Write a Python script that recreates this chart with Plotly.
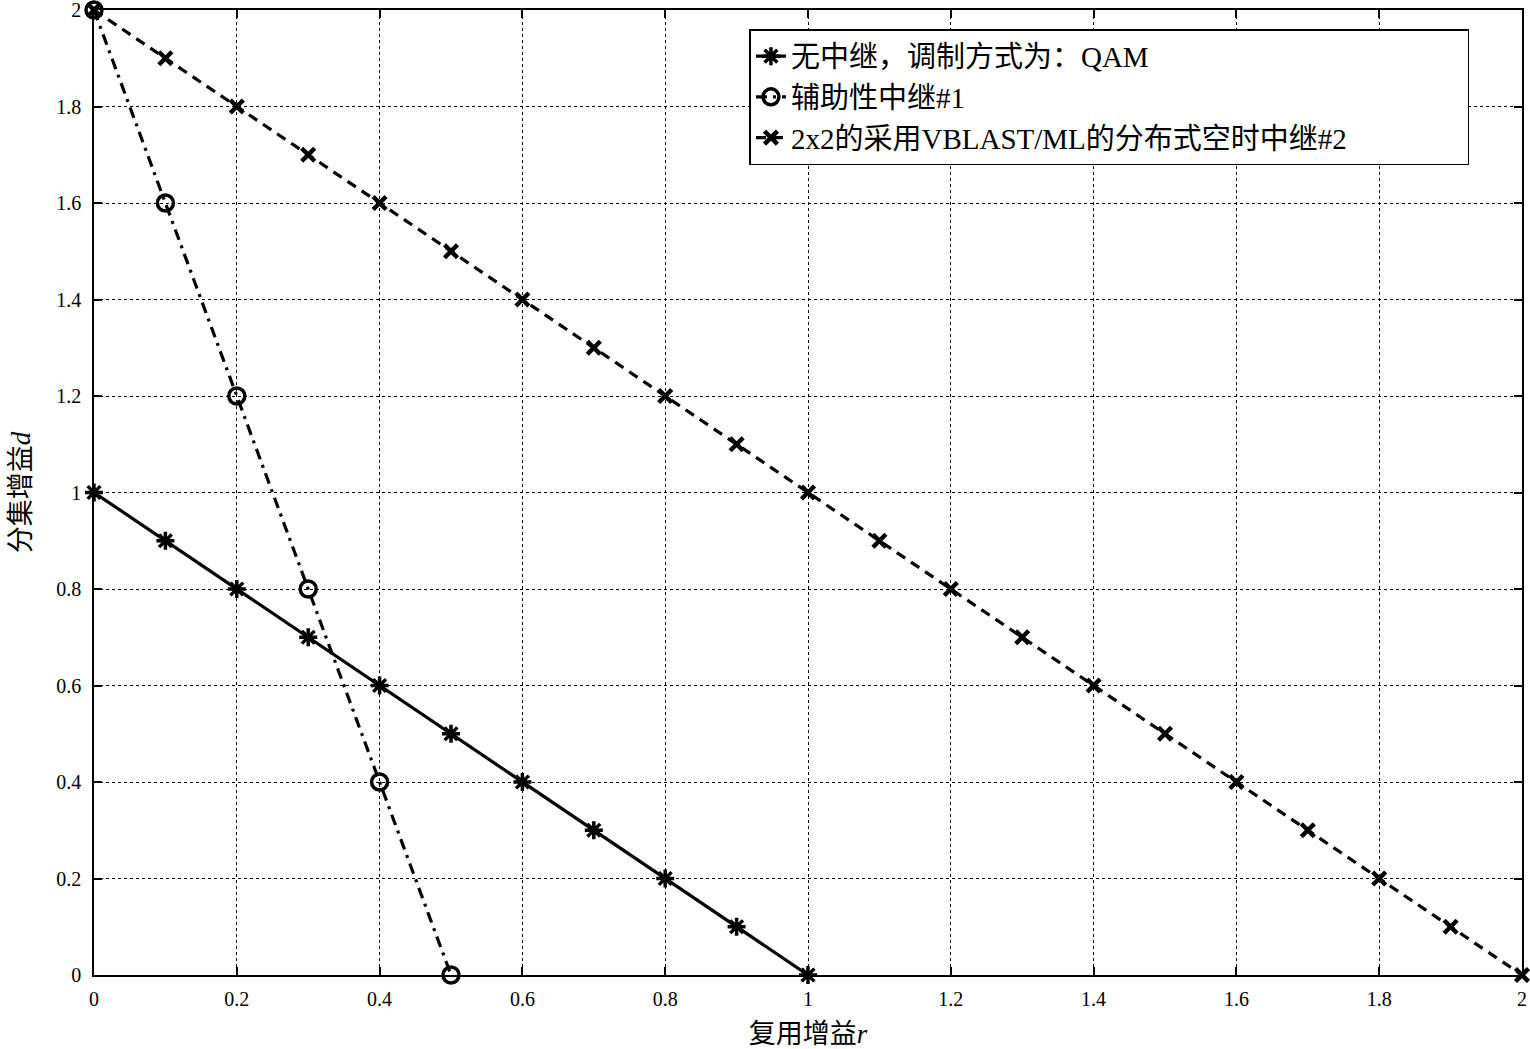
import plotly.graph_objects as go

# Data
r_norelay = [0, 0.1, 0.2, 0.3, 0.4, 0.5, 0.6, 0.7, 0.8, 0.9, 1.0]
d_norelay = [1.0, 0.9, 0.8, 0.7, 0.6, 0.5, 0.4, 0.3, 0.2, 0.1, 0.0]
r_assist = [0, 0.1, 0.2, 0.3, 0.4, 0.5]
d_assist = [2.0, 1.6, 1.2, 0.8, 0.4, 0.0]
r_vblast = [0, 0.1, 0.2, 0.3, 0.4, 0.5, 0.6, 0.7, 0.8, 0.9, 1.0,
            1.1, 1.2, 1.3, 1.4, 1.5, 1.6, 1.7, 1.8, 1.9, 2.0]
d_vblast = [2.0, 1.9, 1.8, 1.7, 1.6, 1.5, 1.4, 1.3, 1.2, 1.1, 1.0,
            0.9, 0.8, 0.7, 0.6, 0.5, 0.4, 0.3, 0.2, 0.1, 0.0]
names = ["无中继，调制方式为：QAM", "辅助性中继#1", "2x2的采用VBLAST/ML的分布式空时中继#2"]
ticks = [0, 0.2, 0.4, 0.6, 0.8, 1, 1.2, 1.4, 1.6, 1.8, 2]
ticklabels = ["0", "0.2", "0.4", "0.6", "0.8", "1", "1.2", "1.4", "1.6", "1.8", "2"]

FONT = "Liberation Serif, Times New Roman, Noto Sans CJK SC, serif"
PAD = "\u00a0" * 16  # widen legend box like the reference

fig = go.Figure()
fig.add_trace(go.Scatter(x=r_norelay, y=d_norelay, name=names[0], mode="lines+markers",
                         cliponaxis=False,
                         line=dict(color="black", width=3.2, dash="solid"),
                         marker=dict(symbol="asterisk-open", size=15, color="black",
                                     line=dict(color="black", width=3.5))))
fig.add_trace(go.Scatter(x=r_assist, y=d_assist, name=names[1], mode="lines+markers",
                         cliponaxis=False,
                         line=dict(color="black", width=3.2, dash="11px,6px,3px,6px"),
                         marker=dict(symbol="circle-open", size=16, color="black",
                                     line=dict(color="black", width=3.5))))
fig.add_trace(go.Scatter(x=r_vblast, y=d_vblast, name=names[2] + PAD, mode="lines+markers",
                         cliponaxis=False,
                         line=dict(color="black", width=3.2, dash="10px,7px"),
                         marker=dict(symbol="x-thin-open", size=13, color="black",
                                     line=dict(color="black", width=4.5))))

axis_common = dict(range=[-1e-6, 2 + 1e-6], tickvals=ticks, ticktext=ticklabels,
                   ticks="inside", ticklen=8, tickwidth=1.5,
                   tickcolor="black", showline=True, linecolor="black", linewidth=1.5,
                   mirror="ticks", showgrid=True, gridcolor="black", gridwidth=1,
                   griddash="dot", zeroline=False, automargin=False,
                   ticklabeloverflow="allow",
                   tickfont=dict(family=FONT, size=20, color="black"))

fig.update_layout(
    width=1530, height=1049,
    margin=dict(l=94, r=8, t=10, b=74),
    paper_bgcolor="white", plot_bgcolor="white",
    font=dict(family=FONT, color="black"),
    xaxis=dict(**axis_common, ticklabelstandoff=5,
               title=dict(text="复用增益<i>r</i>", font=dict(family=FONT, size=27), standoff=16)),
    yaxis=dict(**axis_common, ticklabelstandoff=7,
               title=dict(text="分集增益<i>d</i>", font=dict(family=FONT, size=27), standoff=18)),
    legend=dict(x=0.459, y=0.98, xanchor="left", yanchor="top",
                bordercolor="black", borderwidth=1.5, bgcolor="white",
                font=dict(family=FONT, size=29, color="black"),
                tracegroupgap=0, itemwidth=30),
    showlegend=True,
)

fig.write_html("out.html", config={"displayModeBar": False},
               post_script="document.body.style.margin='0px';document.body.style.overflow='hidden';")
